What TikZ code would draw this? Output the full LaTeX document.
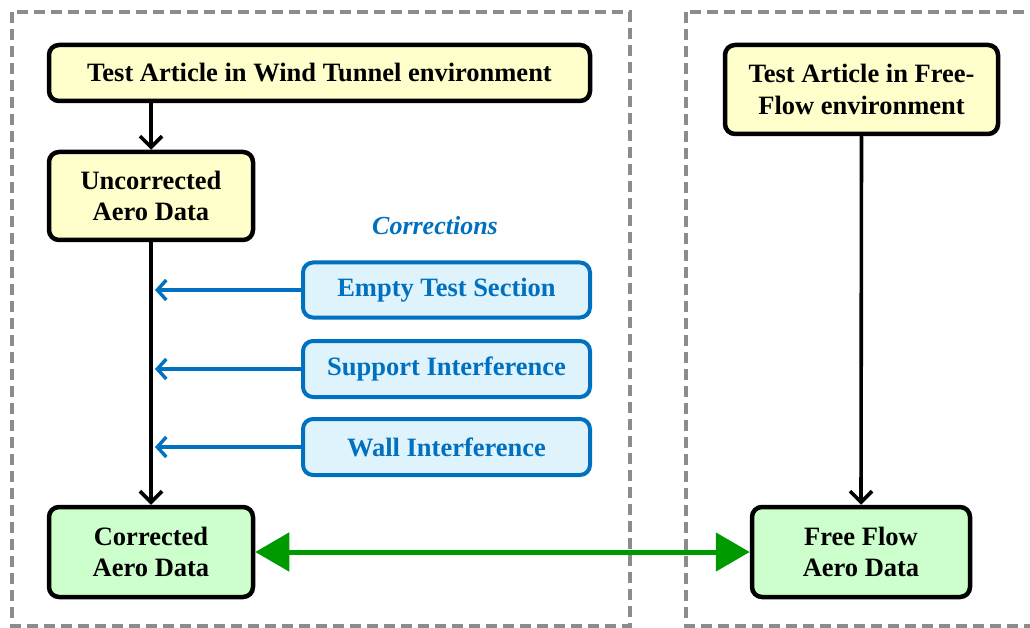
\documentclass[tikz,border=0pt]{standalone}
\usepackage{fontspec}
\setmainfont{Liberation Serif}
\usetikzlibrary{arrows.meta}
\definecolor{frameGray}{HTML}{8C8C8C}
\definecolor{paleYellow}{HTML}{FFFFCC}
\definecolor{paleGreen}{HTML}{CCFFCC}
\definecolor{paleBlue}{HTML}{DFF3FD}
\definecolor{corrBlue}{HTML}{0070C0}
\definecolor{linkGreen}{HTML}{009900}
\tikzset{
  frame/.style={draw=frameGray, line width=3.2pt, dash pattern=on 11pt off 6pt},
  box/.style={draw=black, line width=4.5pt, rounded corners=10pt, align=center,
    font=\fontsize{26.5}{31.5}\selectfont\bfseries, inner sep=0pt},
  yellowbox/.style={box, fill=paleYellow},
  greenbox/.style={box, fill=paleGreen},
  corrbox/.style={box, draw=corrBlue, fill=paleBlue, text=corrBlue, line width=4pt},
  flow/.style={line width=3.6pt, -{Straight Barb[length=11pt,width=22pt,line width=3.6pt]}},
  corrflow/.style={draw=corrBlue, line width=3.6pt, -{Straight Barb[length=9pt,width=20pt,line width=3.4pt]}},
  link/.style={draw=linkGreen, line width=5pt, {Triangle[length=34pt,width=38pt]}-{Triangle[length=34pt,width=38pt]}}
}
\begin{document}
\begin{tikzpicture}[x=1pt,y=-1pt]
\useasboundingbox (0,0) rectangle (1030,628);
% dashed frames for the two environments
\draw[frame] (12,12) rectangle (630,626);
\draw[frame] (686,12) rectangle (1040,626);

% wind tunnel side
\node[yellowbox, minimum width=541pt, minimum height=56pt] (wt) at (319.5,73) {Test Article in Wind Tunnel environment};
\node[yellowbox, minimum width=204pt, minimum height=88pt] (unc) at (151,196) {Uncorrected\\Aero Data};
\node[greenbox, minimum width=204pt, minimum height=90pt] (cor) at (151,552) {Corrected\\Aero Data};

% corrections
\node[font=\fontsize{26}{30}\selectfont\bfseries\itshape, text=corrBlue] (corrtitle) at (435,226) {Corrections};
\node[corrbox, minimum width=287pt, minimum height=55pt] (ets) at (446.5,290) {Empty Test Section};
\node[corrbox, minimum width=287pt, minimum height=56pt] (si) at (446.5,369) {Support Interference};
\node[corrbox, minimum width=287pt, minimum height=56pt] (wi) at (446.5,447) {Wall Interference};

% free flow side
\node[yellowbox, minimum width=273pt, minimum height=89pt] (ff) at (861.5,89.5) {Test Article in Free-\\Flow environment};
\node[greenbox, minimum width=218pt, minimum height=90pt] (ffd) at (861,552) {Free Flow\\Aero Data};

% connectors
\draw[flow] (wt.south -| unc.north) -- (unc.north);
\draw[flow] (unc.south) -- (cor.north);
\draw[flow] (ff.south) -- (ffd.north);
\coordinate (e1) at (unc.south |- ets.west);
\coordinate (e2) at (unc.south |- si.west);
\coordinate (e3) at (unc.south |- wi.west);
\draw[corrflow] (ets.west) -- ([xshift=4pt]e1);
\draw[corrflow] (si.west) -- ([xshift=4pt]e2);
\draw[corrflow] (wi.west) -- ([xshift=4pt]e3);
\draw[link] (cor.east) -- (ffd.west);
\end{tikzpicture}
\end{document}
